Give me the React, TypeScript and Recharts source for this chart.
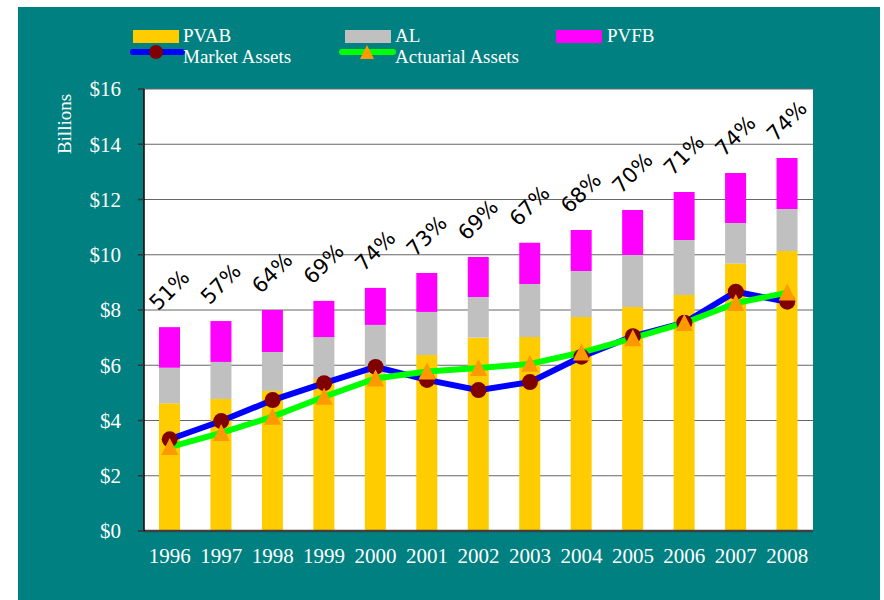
import React from 'react';
import { ComposedChart, Bar, Line, XAxis, YAxis, CartesianGrid, LabelList } from 'recharts';

const years = ['1996', '1997', '1998', '1999', '2000', '2001', '2002', '2003', '2004', '2005', '2006', '2007', '2008'];
const pvabValues = [4.62, 4.78, 5.07, 5.5, 5.7, 6.37, 7.0, 7.02, 7.75, 8.11, 8.54, 9.68, 10.14];
const alValues = [5.91, 6.12, 6.48, 7.02, 7.46, 7.93, 8.47, 8.94, 9.41, 9.99, 10.53, 11.15, 11.66];
const pvfbValues = [7.38, 7.6, 8.0, 8.33, 8.8, 9.34, 9.92, 10.43, 10.9, 11.62, 12.27, 12.96, 13.5];
const marketAssets = [3.32, 3.98, 4.74, 5.35, 5.94, 5.47, 5.1, 5.39, 6.31, 7.05, 7.54, 8.66, 8.3];
const actuarialAssets = [3.04, 3.55, 4.14, 4.86, 5.52, 5.77, 5.9, 6.05, 6.46, 6.98, 7.53, 8.25, 8.63];
const fundedLabels = ['51%', '57%', '64%', '69%', '74%', '73%', '69%', '67%', '68%', '70%', '71%', '74%', '74%'];
const yTicks = [0, 2, 4, 6, 8, 10, 12, 14, 16];

const data = years.map((y, i) => ({
  year: y,
  pvab: pvabValues[i],
  alSeg: +(alValues[i] - pvabValues[i]).toFixed(2),
  pvfbSeg: +(pvfbValues[i] - alValues[i]).toFixed(2),
  market: marketAssets[i],
  actuarial: actuarialAssets[i],
  funded: fundedLabels[i],
}));

const TEAL = '#008080';
const SERIF = '"Liberation Serif", "DejaVu Serif", serif';

const CircleDot = (props: any) => {
  const { cx, cy } = props;
  if (cx == null || cy == null) return null;
  return <circle cx={cx} cy={cy} r={8} fill="#800000" />;
};

const TriangleDot = (props: any) => {
  const { cx, cy } = props;
  if (cx == null || cy == null) return null;
  return <path d={`M${cx},${cy - 9} L${cx + 8.5},${cy + 8} L${cx - 8.5},${cy + 8} Z`} fill="#FF9900" />;
};

const PctLabel = (props: any) => {
  const { x, y, width, value } = props;
  const cx = x + width / 2;
  const cy = y - 37;
  return (
    <text
      x={cx}
      y={cy}
      transform={`rotate(-45 ${cx} ${cy})`}
      textAnchor="middle"
      dominantBaseline="central"
      fontFamily='"DejaVu Sans", Verdana, sans-serif'
      fontSize={21}
      fill="#000"
    >
      {value}
    </text>
  );
};

const BillionsLabel = (props: any) => {
  const vb = props.viewBox || {};
  const x = (vb.x || 0) + 53;
  const y = (vb.y || 0) + 35;
  return (
    <text x={x} y={y} transform={`rotate(-90 ${x} ${y})`} textAnchor="middle" fill="#fff" fontFamily={SERIF} fontSize={19}>
      Billions
    </text>
  );
};

const Legend = () => (
  <svg width={700} height={70} style={{ position: 'absolute', left: 0, top: 0 }}>
    <g fontFamily={SERIF} fontSize={19} fill="#fff">
      <rect x={115} y={23} width={46} height={13} fill="#FFCC00" />
      <text x={165} y={35}>PVAB</text>
      <line x1={115} y1={45} x2={164} y2={45} stroke="#0000FF" strokeWidth={6} strokeLinecap="round" />
      <circle cx={138} cy={45} r={7} fill="#800000" />
      <text x={165} y={56}>Market Assets</text>

      <rect x={327} y={23} width={46} height={13} fill="#C0C0C0" />
      <text x={377} y={35}>AL</text>
      <line x1={324} y1={45} x2={375} y2={45} stroke="#00FF00" strokeWidth={6} strokeLinecap="round" />
      <path d="M349,38 L356,52 L342,52 Z" fill="#FF9900" />
      <text x={377} y={56}>Actuarial Assets</text>

      <rect x={538} y={23} width={46} height={13} fill="#FF00FF" />
      <text x={589} y={35}>PVFB</text>
    </g>
  </svg>
);

export default function App() {
  return (
    <div style={{ position: 'absolute', left: 18, top: 7, width: 862, height: 593, background: TEAL }}>
      <ComposedChart width={862} height={593} data={data} margin={{ top: 82, right: 67, bottom: 29, left: 0 }} barSize={21}>
        <CartesianGrid vertical={false} fill="#FFFFFF" stroke="#666" strokeWidth={1.2} />
        <XAxis
          dataKey="year"
          height={40}
          axisLine={{ stroke: '#404040', strokeWidth: 2.5 }}
          tickLine={false}
          tickSize={6}
          tickMargin={11}
          tick={{ fill: '#fff', fontFamily: SERIF, fontSize: 21 }}
          interval={0}
        />
        <YAxis
          width={126}
          domain={[0, 16]}
          ticks={yTicks}
          interval={0}
          tickFormatter={(v: number) => `$${v}`}
          axisLine={{ stroke: '#000', strokeWidth: 1.5 }}
          tickLine={{ stroke: '#333', strokeWidth: 1.5 }}
          tickSize={6}
          tickMargin={17}
          tick={{ fill: '#fff', fontFamily: SERIF, fontSize: 21 }}
          label={<BillionsLabel />}
        />
        <Bar dataKey="pvab" stackId="s" fill="#FFCC00" isAnimationActive={false} />
        <Bar dataKey="alSeg" stackId="s" fill="#C0C0C0" isAnimationActive={false} />
        <Bar dataKey="pvfbSeg" stackId="s" fill="#FF00FF" isAnimationActive={false}>
          <LabelList dataKey="funded" content={<PctLabel />} />
        </Bar>
        <Line dataKey="market" stroke="#0000FF" strokeWidth={6} dot={<CircleDot />} activeDot={false} isAnimationActive={false} />
        <Line dataKey="actuarial" stroke="#00FF00" strokeWidth={6} dot={<TriangleDot />} activeDot={false} isAnimationActive={false} />
      </ComposedChart>
      <Legend />
    </div>
  );
}
